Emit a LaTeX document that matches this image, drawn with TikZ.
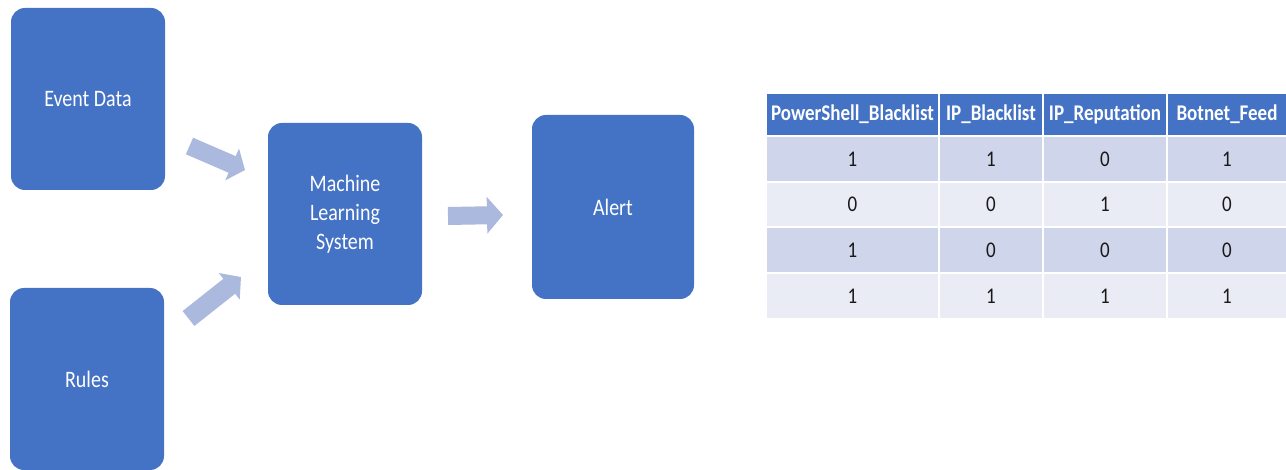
\documentclass[tikz,border=0pt]{standalone}
\usepackage{graphicx}
\usepackage{fontspec}
\setmainfont{Carlito}
\usetikzlibrary{arrows.meta}
\definecolor{boxblue}{HTML}{4472C4}
\definecolor{arrowblue}{HTML}{AAB9DD}
\definecolor{rowodd}{HTML}{CFD5EA}
\definecolor{roweven}{HTML}{E9EBF5}
% slightly tall lettering
\newcommand{\tallt}[1]{\scalebox{1}[1.18]{#1}}
\tikzset{
  block/.style={rectangle, rounded corners=14pt, fill=boxblue, text=white,
    align=center, font=\fontsize{20}{29}\selectfont, inner sep=0pt},
  flow/.style={draw=arrowblue, line width=#1},
  cell/.style={rectangle, draw=white, line width=2pt, inner sep=0pt,
    font=\fontsize{19}{23}\selectfont, anchor=north west},
  headcell/.style={cell, fill=boxblue, text=white, font=\fontsize{19}{23}\selectfont\bfseries},
  oddcell/.style={cell, fill=rowodd, text=black!90},
  evencell/.style={cell, fill=roweven, text=black!90}
}
\begin{document}
\begin{tikzpicture}[x=1pt, y=-1pt]
  \useasboundingbox (0,0) rectangle (1286,470);

  % process boxes
  \node[block, minimum width=154pt, minimum height=182pt] (event) at (88,99) {\tallt{Event Data}};
  \node[block, minimum width=154pt, minimum height=182pt] (rules) at (87,379) {\tallt{Rules}};
  \node[block, minimum width=154pt, minimum height=182pt] (ml) at (345,214)
    {\tallt{Machine}\\\tallt{Learning}\\\tallt{System}};
  \node[block, minimum width=162pt, minimum height=184pt] (alert) at (613,207) {\tallt{Alert}};

  % block arrows between the boxes
  \coordinate (e1) at (189.5,146);
  \coordinate (e2) at (245,170);
  \coordinate (r1) at (188.5,318.5);
  \coordinate (r2) at (241,277);
  \coordinate (m1) at (448,216);
  \coordinate (m2) at (503,215);
  \draw[flow=18pt, -{Triangle[width=34pt,length=14pt]}] (e1) -- (e2);
  \draw[flow=19pt, -{Triangle[width=33pt,length=15pt]}] (r1) -- (r2);
  \draw[flow=18pt, -{Triangle[width=36pt,length=16pt]}] (m1) -- (m2);

  % feature table
  \node[headcell, minimum width=173pt, minimum height=43pt] (h1) at (765,92) {\tallt{PowerShell\_Blacklist}};
  \node[headcell, minimum width=104pt, minimum height=43pt] (h2) at (938,92) {\tallt{IP\_Blacklist}};
  \node[headcell, minimum width=124pt, minimum height=43pt] (h3) at (1042,92) {\tallt{IP\_Reputation}};
  \node[headcell, minimum width=120pt, minimum height=43pt] (h4) at (1166,92) {\tallt{Botnet\_Feed}};

  \foreach \r/\y/\st/\a/\b/\c/\d in {
      1/135/oddcell/1/1/0/1,
      2/180.75/evencell/0/0/1/0,
      3/226.5/oddcell/1/0/0/0,
      4/272.25/evencell/1/1/1/1}{
    \node[\st, minimum width=173pt, minimum height=45.75pt] (c\r-1) at (765,\y) {\tallt{\a}};
    \node[\st, minimum width=104pt, minimum height=45.75pt] (c\r-2) at (938,\y) {\tallt{\b}};
    \node[\st, minimum width=124pt, minimum height=45.75pt] (c\r-3) at (1042,\y) {\tallt{\c}};
    \node[\st, minimum width=120pt, minimum height=45.75pt] (c\r-4) at (1166,\y) {\tallt{\d}};
  }
\end{tikzpicture}
\end{document}
